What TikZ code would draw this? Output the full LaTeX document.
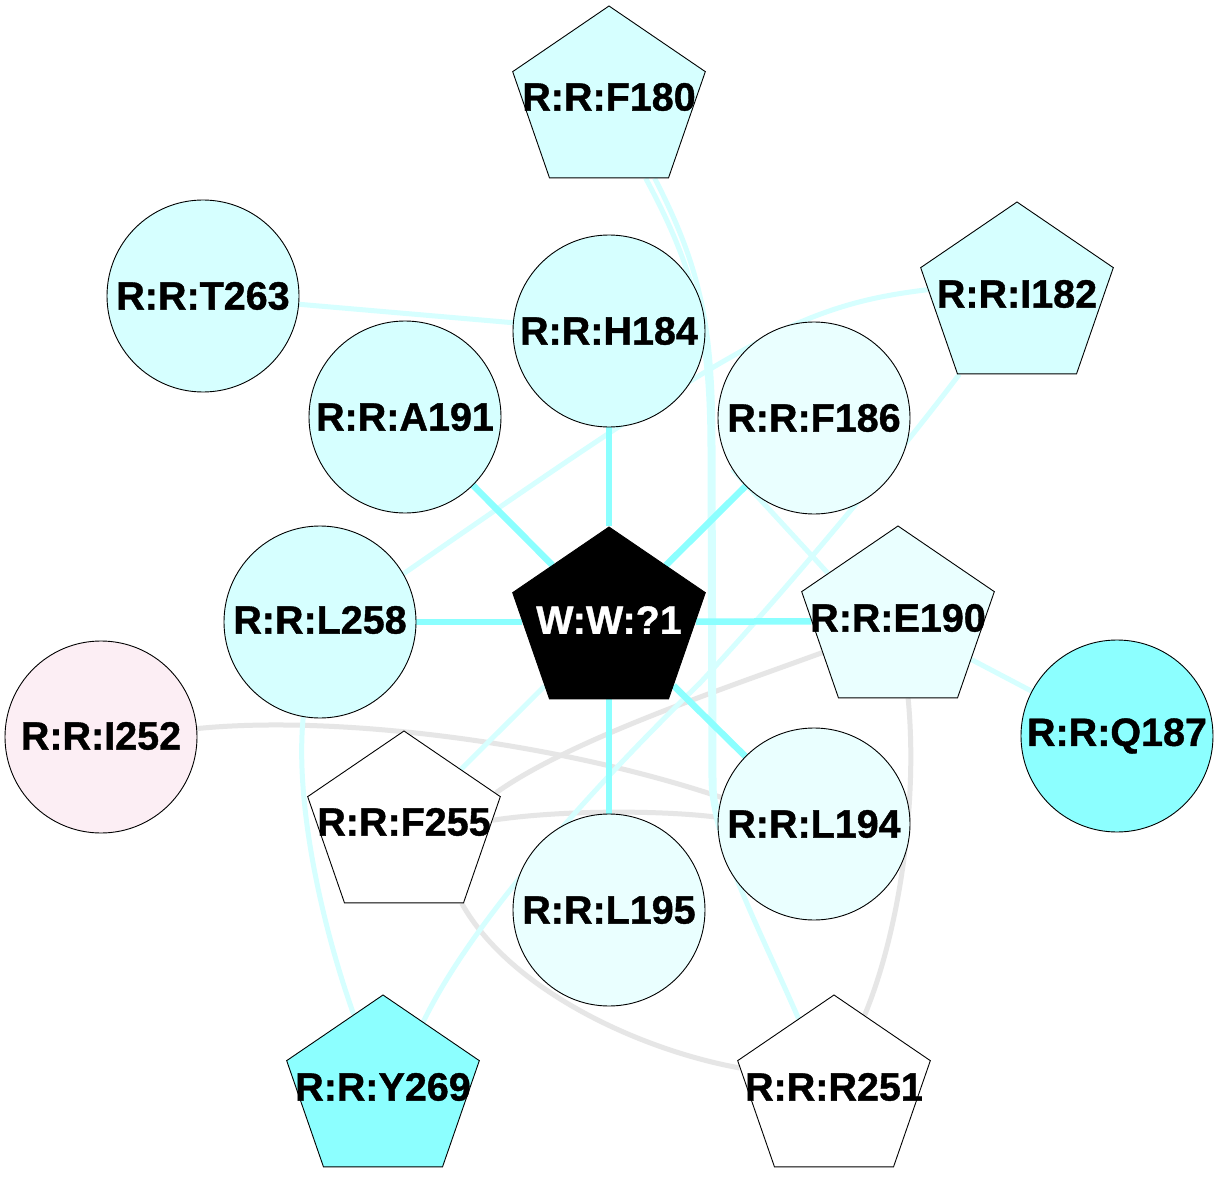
\documentclass[tikz,border=0pt]{standalone}
\usepackage{fontspec}
\setmainfont{Liberation Sans}
\newfontfamily\lblfont{Liberation Sans Bold}[FakeBold=1]
\usetikzlibrary{shapes.geometric}
\pgfdeclarelayer{bg}
\pgfsetlayers{bg,main}
\definecolor{cyL}{HTML}{D6FFFF}
\definecolor{cyXL}{HTML}{EAFFFF}
\definecolor{cyS}{HTML}{8CFFFF}
\definecolor{pk}{HTML}{FCEEF4}
\definecolor{gr}{HTML}{E6E6E6}
\begin{document}
\begin{tikzpicture}[x=1pt,y=-1pt,
 circ/.style={circle, draw=black, line width=0.9pt, minimum size=192pt, inner sep=0pt},
 penta/.style={regular polygon, regular polygon sides=5, draw=black, line width=0.9pt, minimum size=190pt, inner sep=0pt, xscale=1.066, transform shape},
 lbl/.style={font=\fontsize{39.5}{39.5}\selectfont\lblfont, inner sep=0pt},
 ethick/.style={draw=cyS, line width=6.5pt},
 elight/.style={draw=cyL, line width=5pt},
 egray/.style={draw=gr, line width=5pt}]
\useasboundingbox (0,0) rectangle (1219,1193);
% circles
\node[circ, fill=cyL] (T263) at (203,296) {};
\node[circ, fill=cyL] (H184) at (609,331) {};
\node[circ, fill=cyL] (A191) at (405,417) {};
\node[circ, fill=cyXL] (F186) at (814,418) {};
\node[circ, fill=cyL] (L258) at (320,622) {};
\node[circ, fill=pk] (I252) at (101,737) {};
\node[circ, fill=cyS] (Q187) at (1117,736) {};
\node[circ, fill=cyXL] (L194) at (814,824) {};
\node[circ, fill=cyXL] (L195) at (609,910) {};
% pentagons
\begin{scope}[shift={(609,101)}]\node[penta, fill=cyL] (F180) {};\end{scope}
\begin{scope}[shift={(1017,297)}]\node[penta, fill=cyL] (I182) {};\end{scope}
\begin{scope}[shift={(609,622)}]\node[penta, fill=black] (W) {};\end{scope}
\begin{scope}[shift={(898,621)}]\node[penta, fill=cyXL] (E190) {};\end{scope}
\begin{scope}[shift={(404,826)}]\node[penta, fill=white] (F255) {};\end{scope}
\begin{scope}[shift={(383,1090)}]\node[penta, fill=cyS] (Y269) {};\end{scope}
\begin{scope}[shift={(834,1090)}]\node[penta, fill=white] (R251) {};\end{scope}
% labels
\node[lbl] (T263t) at (203,296) {R:R:T263};
\node[lbl] (H184t) at (609,331) {R:R:H184};
\node[lbl] (A191t) at (405,417) {R:R:A191};
\node[lbl] (F186t) at (814,418) {R:R:F186};
\node[lbl] (L258t) at (320,620) {R:R:L258};
\node[lbl] (I252t) at (101,736) {R:R:I252};
\node[lbl] (Q187t) at (1117,736) {R:R:Q187};
\node[lbl] (L194t) at (814,824) {R:R:L194};
\node[lbl] (L195t) at (609,910) {R:R:L195};
\node[lbl] (F180t) at (609,97) {R:R:F180};
\node[lbl] (I182t) at (1017,294) {R:R:I182};
\node[lbl, text=white] (Wt) at (609,620) {W:W:?1};
\node[lbl] (E190t) at (898,618) {R:R:E190};
\node[lbl] (F255t) at (404,822) {R:R:F255};
\node[lbl] (Y269t) at (383,1087) {R:R:Y269};
\node[lbl] (R251t) at (834,1087) {R:R:R251};
% edges
\begin{pgfonlayer}{bg}
\fill[white] (0,0) rectangle (1219,1193);
\draw[egray] (I252.5) .. controls (330,715) and (550,740) .. (L194.164);
\draw[egray] (F255.4) .. controls (560,810) and (660,810) .. (L194.176);
\draw[egray] (E190.204) .. controls (720,690) and (570,740) .. (F255.21);
\draw[egray] (E190.277) .. controls (918,800) and (900,930) .. (R251.69);
\draw[egray] (F255.305) .. controls (510,990) and (640,1050) .. (R251.166);
\draw[elight] (T263) -- (H184);
\draw[elight] (W) -- (F255);
\draw[elight] (E190) -- (Q187);
\draw[elight] (F186.212) -- (E190.144);
\draw[elight] (I182.175) .. controls (800,305) and (740,340) .. (L258.30);
\draw[elight] (I182.235) .. controls (910,440) and (800,575) .. (700,683) .. controls (585,795) and (470,925) .. (Y269.61);
\draw[elight] (L258.260) .. controls (295,800) and (320,920) .. (Y269.110);
\draw[elight] (F180.294) .. controls (695,270) and (710,330) .. (710,450) -- (711,780) .. controls (712,840) and (760,930) .. (R251.115);
\draw[elight] (F180.299) .. controls (702,270) and (713,330) .. (713,450) -- (714,780) .. controls (714,800) and (716,810) .. (L194.169);
\draw[ethick] (W) -- (H184);
\draw[ethick] (W) -- (A191);
\draw[ethick] (W) -- (F186);
\draw[ethick] (W) -- (L258);
\draw[ethick] (W) -- (E190);
\draw[ethick] (W) -- (L194);
\draw[ethick] (W) -- (L195);
\end{pgfonlayer}
\end{tikzpicture}
\end{document}
